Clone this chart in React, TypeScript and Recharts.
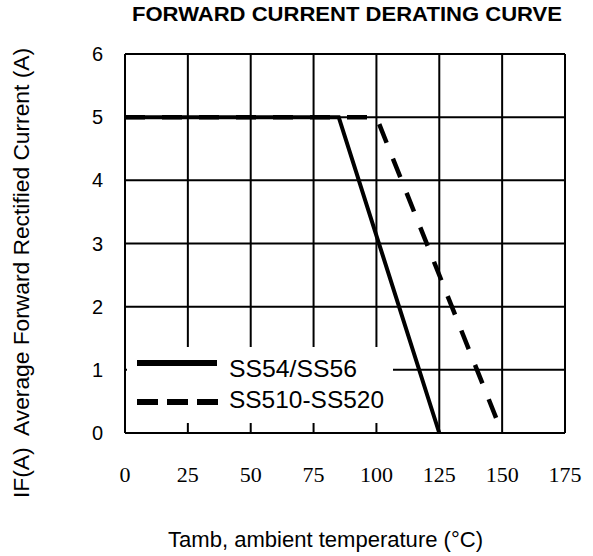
import React from 'react';
import { LineChart, Line, XAxis, YAxis, CartesianGrid, Legend, Customized } from 'recharts';

// Tick values
const tempTicks = [0, 25, 50, 75, 100, 125, 150, 175];
const currentTicks = [0, 1, 2, 3, 4, 5, 6];

// Series: SS54/SS56 (solid)
const ss54Temp = [0, 85, 125];
const ss54Current = [5, 5, 0];

// Series: SS510-SS520 (dashed)
const ss510Temp = [0, 100, 150];
const ss510Current = [5, 5, 0];

const seriesNames = ['SS54/SS56', 'SS510-SS520'];
const titleText = 'FORWARD CURRENT DERATING CURVE';
const xLabelText = 'Tamb, ambient temperature (°C)';
const yLabelText = 'IF(A)  Average Forward Rectified Current (A)';

const ss54Data = ss54Temp.map((t, i) => ({ t, current: ss54Current[i] }));
const ss510Data = ss510Temp.map((t, i) => ({ t, current: ss510Current[i] }));

const SANS = '"Liberation Sans", Arial, sans-serif';
const SERIF = '"Liberation Serif", "Times New Roman", serif';

const LegendContent = () => (
  <svg width={266} height={76} style={{ display: 'block' }}>
    <line x1={10} x2={90} y1={16} y2={16} stroke="#000" strokeWidth={6} />
    <line x1={10} x2={91} y1={55} y2={55} stroke="#000" strokeWidth={6} strokeDasharray="21 9" />
    <text x={102} y={30} fontSize={24} fontFamily={SANS} fill="#000" textLength={128} lengthAdjust="spacingAndGlyphs">{seriesNames[0]}</text>
    <text x={102} y={61} fontSize={24} fontFamily={SANS} fill="#000" textLength={155} lengthAdjust="spacingAndGlyphs">{seriesNames[1]}</text>
  </svg>
);

const Title = () => (
  <text x={132} y={21} fontSize={21} fontWeight="bold" fontFamily={SANS} fill="#000"
    textLength={430} lengthAdjust="spacingAndGlyphs">{titleText}</text>
);

export default function App() {
  return (
    <div style={{ position: 'absolute', left: 0, top: 0, width: 593, height: 556, background: '#fff' }}>
      <LineChart width={593} height={556} margin={{ top: 54, right: 28, bottom: 93, left: 65 }}>
        <CartesianGrid stroke="#000" strokeWidth={2} />
        <XAxis
          type="number"
          dataKey="t"
          domain={[0, 175]}
          ticks={tempTicks}
          interval={0}
          allowDataOverflow
          axisLine={{ stroke: '#000', strokeWidth: 2 }}
          tickLine={false}
          tickSize={0}
          tickMargin={33}
          height={30}
          tick={{ fill: '#000', fontSize: 22, fontFamily: SERIF }}
          label={{
            content: () => (
              <text x={168} y={547} fontSize={22} fontFamily={SANS} fill="#000"
                textLength={315} lengthAdjust="spacingAndGlyphs">{xLabelText}</text>
            ),
          }}
        />
        <YAxis
          type="number"
          domain={[0, 6]}
          ticks={currentTicks}
          interval={0}
          width={60}
          axisLine={{ stroke: '#000', strokeWidth: 2 }}
          tickLine={false}
          tickSize={0}
          tickMargin={22}
          tick={{ fill: '#000', fontSize: 20, fontFamily: SANS }}
          label={{
            content: () => (
              <text transform="translate(29,273) rotate(-90)" textAnchor="middle" fontSize={22}
                fontFamily={SANS} fill="#000" style={{ whiteSpace: 'pre' }}
                textLength={450} lengthAdjust="spacingAndGlyphs">{yLabelText}</text>
            ),
          }}
        />
        <Line
          data={ss510Data}
          dataKey="current"
          name={seriesNames[1]}
          type="linear"
          stroke="#000"
          strokeWidth={4.5}
          strokeDasharray="20 17"
          dot={false}
          activeDot={false}
          isAnimationActive={false}
        />
        <Line
          data={ss54Data}
          dataKey="current"
          name={seriesNames[0]}
          type="linear"
          stroke="#000"
          strokeWidth={4}
          dot={false}
          activeDot={false}
          isAnimationActive={false}
        />
        <Legend
          layout="horizontal"
          verticalAlign="middle"
          align="center"
          width={266}
          height={76}
          content={<LegendContent />}
          wrapperStyle={{ left: 127, top: 347, width: 266, height: 76, background: '#fff', margin: 0, padding: 0 }}
        />
        <Customized component={Title} />
      </LineChart>
    </div>
  );
}
